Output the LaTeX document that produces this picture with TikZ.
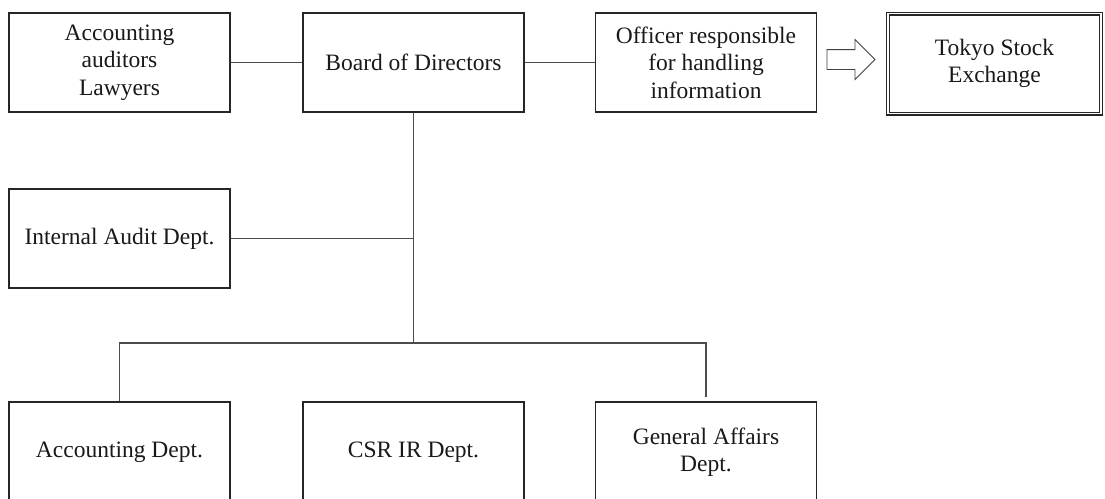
\documentclass[tikz,border=0pt]{standalone}
\usepackage{fontspec}
\setmainfont{Liberation Serif}
\usetikzlibrary{shapes.arrows}

\begin{document}
\begin{tikzpicture}[x=1pt,y=-1pt,
    box/.style={draw=black!85,line width=1.1pt,minimum width=221pt,minimum height=99pt,
      align=center,inner sep=2pt,text=black!90,font=\fontsize{23.5}{27.5}\selectfont},
    link/.style={draw=black!70,line width=1.3pt},
    bigarrow/.style={single arrow,draw=black!75,line width=0.9pt,inner xsep=0pt,inner ysep=9.5pt,
      single arrow head extend=10pt,minimum height=48pt}]
    \useasboundingbox (0,0) rectangle (1105,498);
    \clip (0,0) rectangle (1105,498);

    % top row
    \node[box] (aud) at (119.5,62.5) {Accounting\\auditors\\Lawyers};
    \node[box] (bod) at (413.5,62.5) {Board of Directors};
    \node[box] (off) at (706,62.5) {Officer responsible\\for handling\\information};
    \node[box,double,double distance=1.8pt,minimum width=213pt,minimum height=100pt] (tse) at (994.5,63.5) {Tokyo Stock\\Exchange};
    \node[bigarrow] (arr) at (846,59.5) {};

    % audit
    \node[box] (iad) at (119.5,238.5) {Internal Audit Dept.};

    % departments
    \node[box,minimum height=100pt] (acc) at (119.5,452) {Accounting Dept.};
    \node[box,minimum height=100pt] (csr) at (413.5,452) {CSR IR Dept.};
    \node[box,minimum height=100pt] (gad) at (706,452) {General Affairs\\Dept.};

    \coordinate (br) at (413.5,343);

    \draw[link] (aud) -- (bod);
    \draw[link] (bod) -- (off);
    \draw[link] (bod) -- (br);
    \draw[link] (iad.east) -- (iad.east -| br);
    \draw[link] (acc.north) |- (br) -| ([yshift=4pt]gad.north);
\end{tikzpicture}
\end{document}
